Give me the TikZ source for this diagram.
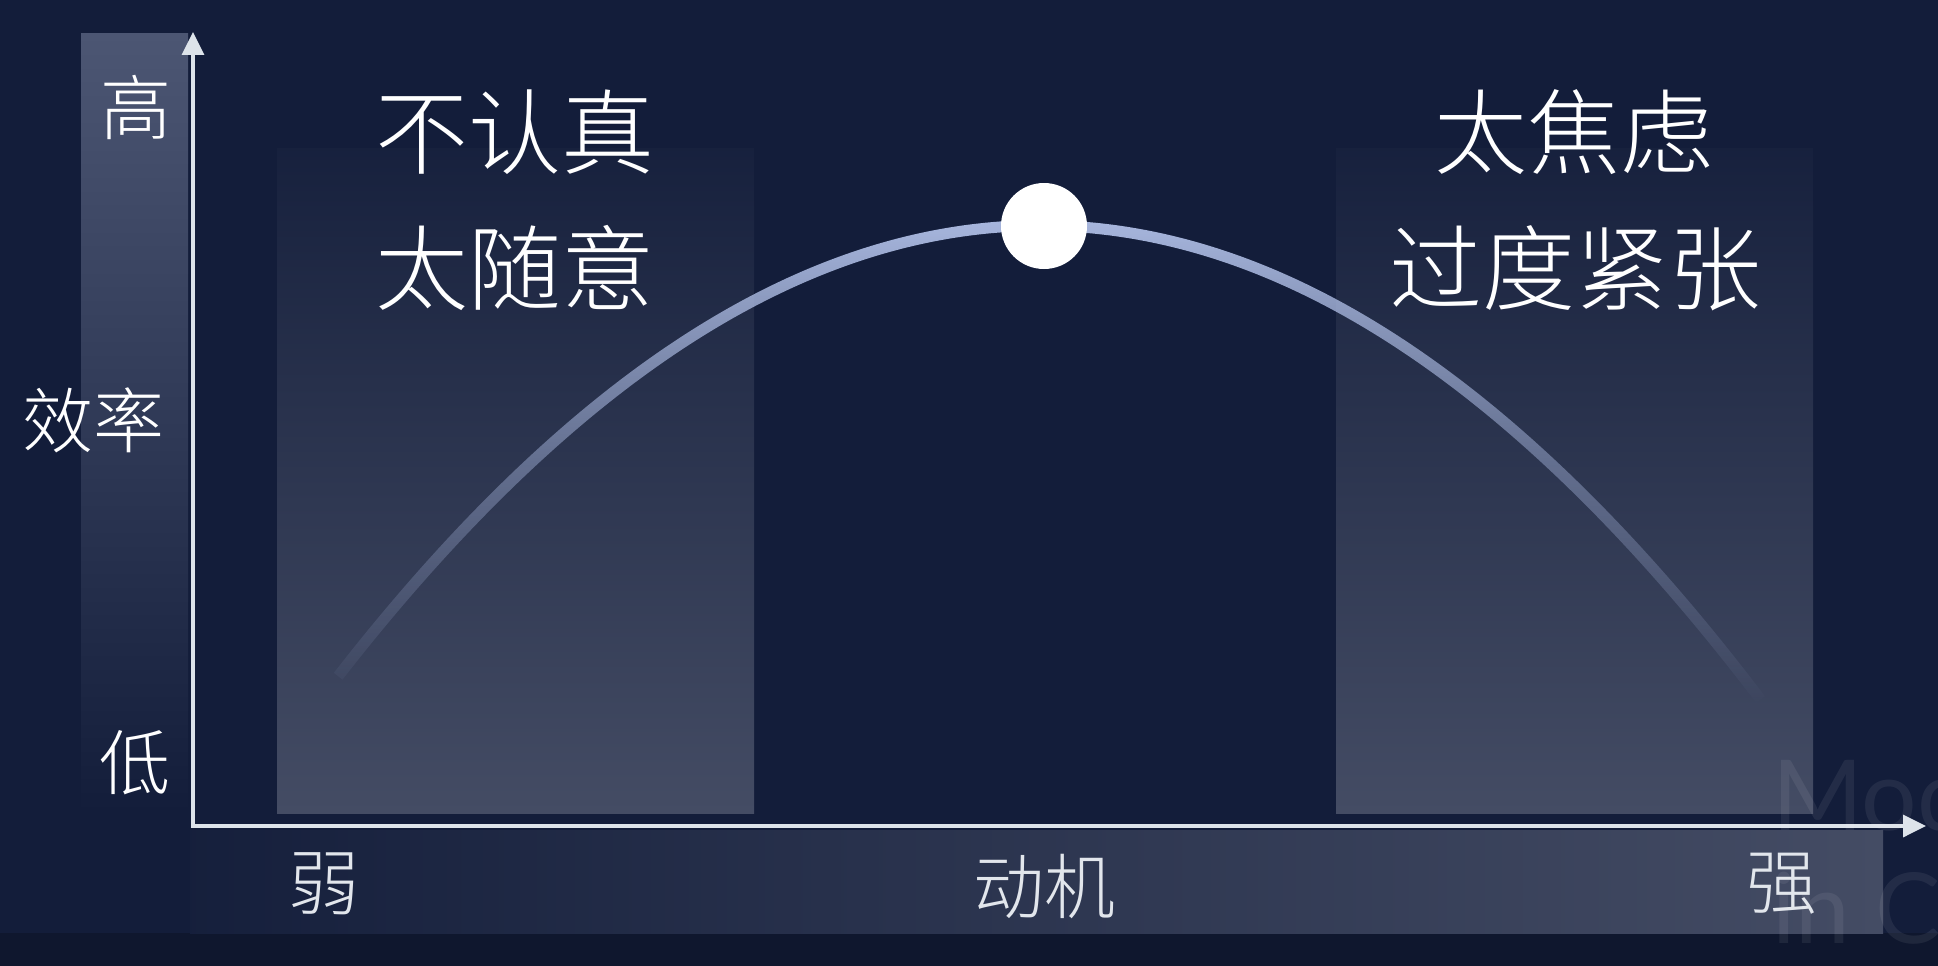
\documentclass[tikz,border=0pt]{standalone}
\usepackage{fontspec}
\IfFontExistsTF{Noto Sans CJK SC Light}{\newfontfamily\cjk{Noto Sans CJK SC Light}}{\newfontfamily\cjk{Noto Sans CJK SC}}
\setsansfont{Lato}
\usetikzlibrary{arrows.meta, fadings}
\definecolor{bgnavy}{HTML}{131D3A}
\definecolor{bgdeep}{HTML}{0F172E}
\definecolor{bandgray}{HTML}{444C64}
\definecolor{bandtop}{HTML}{4C5673}
\definecolor{curveblue}{HTML}{A8B7DE}
\definecolor{axiswhite}{HTML}{DDE3EA}
\definecolor{labelgray}{HTML}{E2E6EC}
\tikzfading[name=curvefade, top color=transparent!0, bottom color=transparent!100, middle color=transparent!55]
\tikzset{
  axes/.style={{Triangle[length=23pt, width=22pt]}-{Triangle[length=23pt, width=22pt]}, line width=3.5pt, color=axiswhite},
  zone/.style={top color=bgnavy!92!bandgray, bottom color=bandgray},
  big/.style={text=white, inner sep=0pt, font=\cjk\fontsize{93}{93}\selectfont},
  tick/.style={text=white, inner sep=0pt, font=\cjk\fontsize{71}{71}\selectfont},
  watermark/.style={anchor=base west, text=white, opacity=0.07, inner sep=0pt, font=\sffamily\fontsize{98}{98}\selectfont}
}

\begin{document}
\begin{tikzpicture}[x=1pt, y=-1pt]
\clip (0,0) rectangle (1938,966);
\fill[bgnavy] (0,0) rectangle (1938,966);
\fill[bgdeep] (0,933) rectangle (1938,966);
% shaded bands
\fill[top color=bandtop, bottom color=bgnavy] (81,34) rectangle (188,813);
\fill[zone] (277,148) rectangle (754,813);
\fill[zone] (1336,148) rectangle (1813,813);
\fill[left color=bgnavy!95!bandgray, right color=bandgray] (190,830) rectangle (1883,933);
% axes
\coordinate (O) at (193,826);
\coordinate (ytop) at (193,32);
\coordinate (xend) at (1926,826);
\draw[axes] (ytop) -- (O) -- (xend);
% curve and peak
\draw[curveblue, line width=11pt, path fading=curvefade] plot[domain=340:1766, samples=80, smooth] (\x, {225+(0.03017*(\x-1044))^2});
\node[circle, fill=white, minimum size=86pt, inner sep=0pt] (peak) at (1044,226) {};
% labels
\node[tick] (high) at (136,107) {高};
\node[tick] (eff) at (93,420) {效率};
\node[tick] (low) at (135,763) {低};
\node[big] (loose1) at (515,132) {不认真};
\node[big] (loose2) at (515,268) {太随意};
\node[big] (tense1) at (1574,132) {太焦虑};
\node[big] (tense2) at (1575,268) {过度紧张};
\node[tick, text=labelgray] (weak) at (324,884) {弱};
\node[tick, text=labelgray] (motive) at (1044,887) {动机};
\node[tick, text=labelgray] (strong) at (1782,884) {强};
\node[watermark] (mark1) at (1772,830) {Mod};
\node[watermark] (mark2) at (1772,943) {in Cir};
\end{tikzpicture}
\end{document}
